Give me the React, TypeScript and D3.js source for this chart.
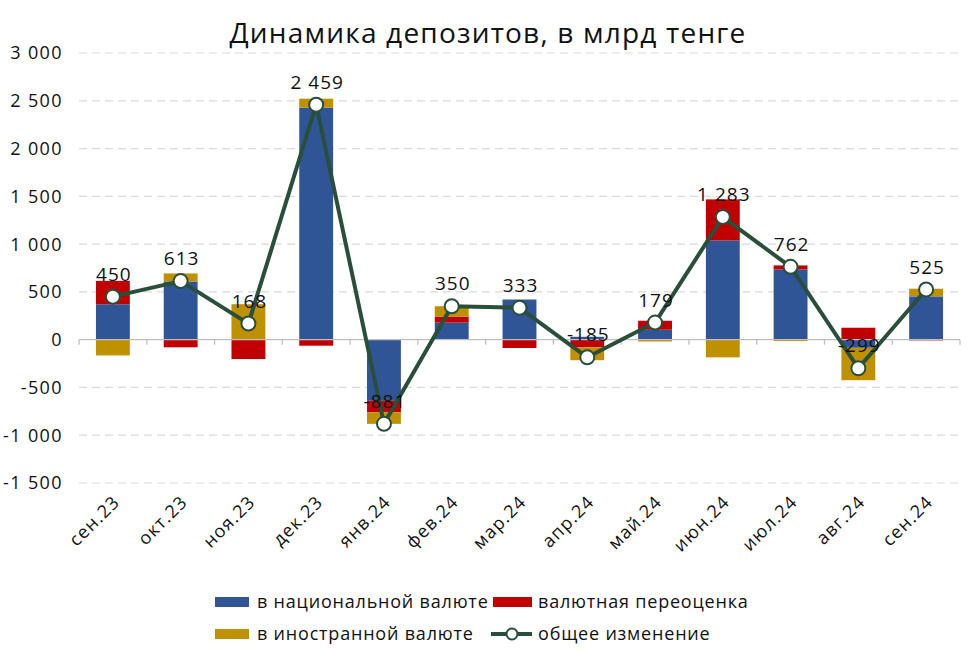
import React from "react";
import * as d3 from "d3";

const months = ["сен.23", "окт.23", "ноя.23", "дек.23", "янв.24", "фев.24", "мар.24", "апр.24", "май.24", "июн.24", "июл.24", "авг.24", "сен.24"];
const national = [370, 609, 5, 2428, -640, 178, 420, 30, 104, 1038, 735, -85, 453];
const revaluation = [245, -80, -203, -63, -120, 64, -87, -80, 94, 430, 42, 125, -8];
const foreign = [-165, 84, 366, 94, -121, 108, 0, -135, -19, -185, -15, -339, 80];
const total = [450, 613, 168, 2459, -881, 350, 333, -185, 179, 1283, 762, -299, 525];
const yTicks = [-1500, -1000, -500, 0, 500, 1000, 1500, 2000, 2500, 3000];

const seriesKeys = ["national", "revaluation", "foreign"];
const colors: Record<string, string> = { national: "#2f5597", revaluation: "#c00000", foreign: "#bf9000" };
const lineColor = "#294f3a";
const font = "'Open Sans', sans-serif";

const fmt = (v: number) => {
  const s = Math.abs(v).toString().replace(/\B(?=(\d{3})+(?!\d))/g, " ");
  return (v < 0 ? "-" : "") + s;
};

export default function App() {
  const width = 974;
  const height = 661;
  const left = 79;
  const right = 960;

  const rows = months.map((m, i) => ({ month: m, national: national[i], revaluation: revaluation[i], foreign: foreign[i] }));
  const stacked = d3.stack<any>().keys(seriesKeys).offset(d3.stackOffsetDiverging)(rows);

  const x = d3.scaleBand().domain(months).range([left, right]).paddingInner(0.5).paddingOuter(0.25);
  const y = d3.scaleLinear().domain([-1500, 3000]).range([483, 53]);
  const step = x.step();
  const cx = (m: string) => (x(m) as number) + x.bandwidth() / 2;

  const line = d3.line<number>().x((_, i) => cx(months[i])).y((d) => y(d));

  return (
    <svg width={width} height={height} style={{ position: "absolute", left: 0, top: 0, background: "#fff" }} fontFamily={font}>
      <text x={488} y={43} textAnchor="middle" fontSize={28} letterSpacing={1.2} fill="#111">Динамика депозитов, в млрд тенге</text>

      {yTicks.map((t) => (
        <g key={t}>
          {t !== 0 && (
            <line x1={left} x2={right} y1={y(t)} y2={y(t)} stroke="#d9d9d9" strokeWidth={1.2} strokeDasharray="8 5" />
          )}
          <text x={63} y={y(t)} dy="0.36em" textAnchor="end" fontSize={18} letterSpacing={1.4} fill="#111">{fmt(t)}</text>
        </g>
      ))}

      {stacked.map((s) => (
        <g key={s.key} fill={colors[s.key]}>
          {s.map((d, i) => (
            <rect key={i} x={x(months[i])} width={x.bandwidth()} y={y(Math.max(d[0], d[1]))} height={Math.abs(y(d[0]) - y(d[1]))} />
          ))}
        </g>
      ))}

      <line x1={left} x2={right} y1={y(0)} y2={y(0)} stroke="#bfbfbf" strokeWidth={1.3} />
      {d3.range(months.length + 1).map((i) => (
        <line key={i} x1={left + i * step} x2={left + i * step} y1={y(0)} y2={y(0) + 5} stroke="#bfbfbf" strokeWidth={1.3} />
      ))}

      <path d={line(total) || ""} fill="none" stroke={lineColor} strokeWidth={4} strokeLinejoin="round" />
      {total.map((v, i) => (
        <circle key={i} cx={cx(months[i])} cy={y(v)} r={7} fill="#fff" stroke={lineColor} strokeWidth={2} />
      ))}
      {total.map((v, i) => (
        <text key={i} x={cx(months[i]) + 1} y={y(v) - 16} textAnchor="middle" fontSize={19} letterSpacing={1} fill="#111">{fmt(v)}</text>
      ))}

      {months.map((m) => (
        <text key={m} transform={`translate(${cx(m) + 8},${503}) rotate(-45)`} textAnchor="end" fontSize={18} letterSpacing={1.2} fill="#111">{m}</text>
      ))}

      <g fontSize={18} letterSpacing={0.8} fill="#111">
        <rect x={215} y={597} width={34} height={10} fill={colors.national} />
        <text x={257} y={602} dy="0.35em">в национальной валюте</text>
        <rect x={493} y={597} width={39} height={10} fill={colors.revaluation} />
        <text x={538} y={602} dy="0.35em">валютная переоценка</text>
        <rect x={215} y={629} width={34} height={10} fill={colors.foreign} />
        <text x={257} y={634} dy="0.35em">в иностранной валюте</text>
        <line x1={491} x2={532} y1={634} y2={634} stroke={lineColor} strokeWidth={4} />
        <circle cx={512} cy={634} r={5.5} fill="#fff" stroke={lineColor} strokeWidth={2} />
        <text x={538} y={634} dy="0.35em">общее изменение</text>
      </g>
    </svg>
  );
}
